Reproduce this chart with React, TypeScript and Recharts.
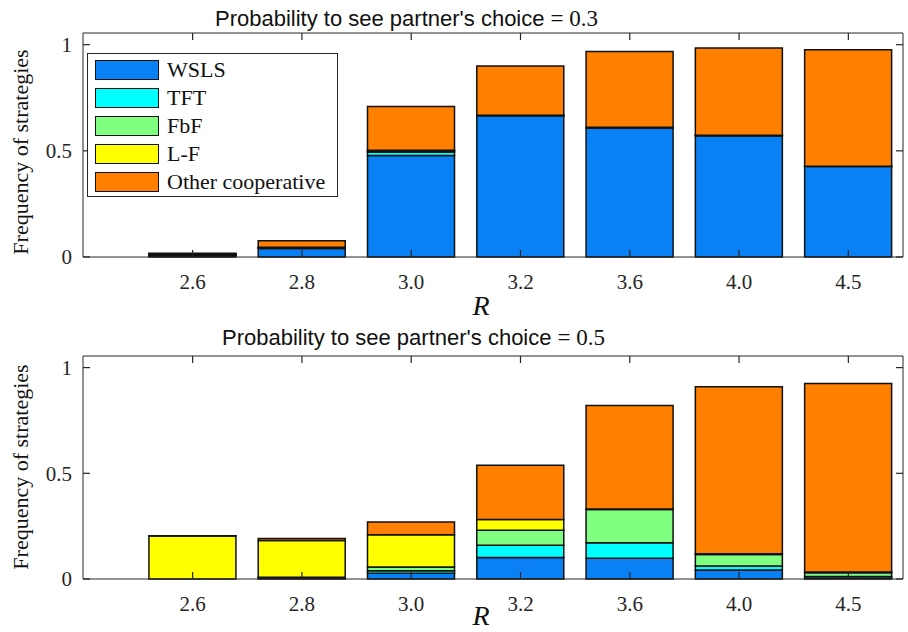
import { BarChart, Bar, XAxis, YAxis, Legend } from "recharts";

// R values on the x axis
const categories = ["2.6", "2.8", "3.0", "3.2", "3.6", "4.0", "4.5"];

// probability to see partner's choice = 0.3
const wsls03 = [0.006, 0.04, 0.478, 0.665, 0.608, 0.571, 0.426];
const tft03 = [0.003, 0.002, 0.015, 0.002, 0.002, 0.001, 0.001];
const fbf03 = [0.003, 0.002, 0.006, 0.001, 0.001, 0.001, 0.001];
const lf03 = [0.003, 0.002, 0.004, 0.0, 0.0, 0.0, 0.0];
const other03 = [0.003, 0.031, 0.206, 0.232, 0.357, 0.411, 0.548];

// probability to see partner's choice = 0.5
const wsls05 = [0.0, 0.003, 0.027, 0.102, 0.098, 0.042, 0.004];
const tft05 = [0.0, 0.002, 0.012, 0.058, 0.073, 0.02, 0.008];
const fbf05 = [0.0, 0.003, 0.018, 0.071, 0.158, 0.054, 0.018];
const lf05 = [0.204, 0.174, 0.152, 0.051, 0.002, 0.003, 0.003];
const other05 = [0.001, 0.01, 0.061, 0.256, 0.49, 0.79, 0.892];

const seriesNames = ["WSLS", "TFT", "FbF", "L-F", "Other cooperative"];
const seriesColors = ["#0a80f5", "#00ffff", "#80ff80", "#ffff00", "#ff8000"];
const yTicks = [0, 0.5, 1];

const AXIS = "#262626";
const SERIF = "'Liberation Serif', 'Times New Roman', serif";
const SANS = "'Liberation Sans', Arial, sans-serif";
const W = 908;
const H = 316;
const LEFT = 83;
const RIGHT = 903;
const TICK = 7;

const buildRows = (cols: number[][]) =>
  categories.map((r, i) => {
    const row: Record<string, number | string> = { r };
    cols.forEach((c, k) => (row[`s${k}`] = c[i]));
    return row;
  });

const rows03 = buildRows([wsls03, tft03, fbf03, lf03, other03]);
const rows05 = buildRows([wsls05, tft05, fbf05, lf05, other05]);

const LegendBox = () => (
  <div
    style={{
      position: "relative",
      width: 251,
      height: 144,
      border: `1.5px solid ${AXIS}`,
      background: "#fff",
      boxSizing: "border-box",
    }}
  >
    {seriesNames.map((name, i) => (
      <div key={name}>
        <div
          style={{
            position: "absolute",
            left: 7,
            top: 6 + i * 28,
            width: 64,
            height: 20,
            background: seriesColors[i],
            border: "1.5px solid #111",
            boxSizing: "border-box",
          }}
        />
        <div
          style={{
            position: "absolute",
            left: 79,
            top: 3 + i * 28,
            fontFamily: SERIF,
            fontSize: 22,
            lineHeight: "26px",
            color: "#111",
            whiteSpace: "nowrap",
          }}
        >
          {name}
        </div>
      </div>
    ))}
  </div>
);

function Panel({
  rows,
  plotTop,
  plotBottom,
  showLegend,
}: {
  rows: Record<string, number | string>[];
  plotTop: number;
  plotBottom: number;
  showLegend?: boolean;
}) {
  // matlab-style box: inward ticks on all four sides
  const XTick = (p: any) => (
    <g>
      <line x1={p.x} x2={p.x} y1={plotBottom} y2={plotBottom - TICK} stroke={AXIS} strokeWidth={1.2} />
      <line x1={p.x} x2={p.x} y1={plotTop} y2={plotTop + TICK} stroke={AXIS} strokeWidth={1.2} />
      <text
        x={p.x}
        y={p.y}
        dy="0.71em"
        textAnchor="middle"
        fontFamily={SERIF}
        fontSize={21}
        fill={AXIS}
      >
        {p.payload.value}
      </text>
    </g>
  );
  const YTick = (p: any) => (
    <g>
      <line x1={LEFT} x2={LEFT + TICK} y1={p.y} y2={p.y} stroke={AXIS} strokeWidth={1.2} />
      <line x1={RIGHT} x2={RIGHT - TICK} y1={p.y} y2={p.y} stroke={AXIS} strokeWidth={1.2} />
      <text
        x={p.x}
        y={p.y}
        dy="0.355em"
        textAnchor="end"
        fontFamily={SERIF}
        fontSize={21}
        fill={AXIS}
      >
        {p.payload.value}
      </text>
    </g>
  );

  return (
    <BarChart
      width={W}
      height={H}
      data={rows}
      margin={{ top: plotTop - 1, right: W - RIGHT - 1, bottom: H - plotBottom - 30, left: LEFT - 40 }}
      barCategoryGap="10%"
    >
      <XAxis
        xAxisId="t"
        dataKey="r"
        orientation="top"
        interval={0}
        padding={{ left: 55, right: 0 }}
        height={1}
        stroke={AXIS}
        tick={false}
        tickLine={false}
      />
      <YAxis
        yAxisId="r"
        orientation="right"
        domain={[0, 1.055]}
        ticks={yTicks}
        width={1}
        stroke={AXIS}
        tick={false}
        tickLine={false}
      />
      {showLegend && (
        <Legend
          layout="horizontal"
          verticalAlign="middle"
          align="center"
          content={() => <LegendBox />}
          wrapperStyle={{ left: 87, top: 53, width: 251, height: 144 }}
        />
      )}
      {seriesNames.map((name, k) => (
        <Bar
          key={name}
          xAxisId="b"
          yAxisId="l"
          dataKey={`s${k}`}
          name={name}
          stackId="a"
          fill={seriesColors[k]}
          stroke="#111"
          strokeWidth={1.5}
          isAnimationActive={false}
        />
      ))}
      <XAxis
        xAxisId="b"
        dataKey="r"
        interval={0}
        padding={{ left: 55, right: 0 }}
        height={30}
        stroke={AXIS}
        tickLine={false}
        tickSize={0}
        tickMargin={17}
        tick={<XTick />}
      />
      <YAxis
        yAxisId="l"
        domain={[0, 1.055]}
        ticks={yTicks}
        width={40}
        stroke={AXIS}
        tickLine={false}
        tickSize={0}
        tickMargin={11}
        tick={<YTick />}
      />
    </BarChart>
  );
}

export default function App() {
  return (
    <div
      style={{
        position: "absolute",
        left: 0,
        top: 0,
        width: W,
        height: 632,
        background: "#fff",
      }}
    >
      <Panel rows={rows03} plotTop={33} plotBottom={257} showLegend />
      <Panel rows={rows05} plotTop={40} plotBottom={263} />
      <svg
        width={W}
        height={632}
        style={{ position: "absolute", left: 0, top: 0, pointerEvents: "none" }}
      >
        <text x={215} y={26} fontFamily={SANS} fontSize={22} fill="#111">
          Probability to see partner's choice{" "}
          <tspan fontFamily={SERIF} fontSize={23}>= 0.3</tspan>
        </text>
        <text x={222} y={345} fontFamily={SANS} fontSize={22} fill="#111">
          Probability to see partner's choice{" "}
          <tspan fontFamily={SERIF} fontSize={23}>= 0.5</tspan>
        </text>
        <text x={481} y={315} textAnchor="middle" fontFamily={SERIF} fontStyle="italic" fontSize={28} fill="#111">
          R
        </text>
        <text x={481} y={625} textAnchor="middle" fontFamily={SERIF} fontStyle="italic" fontSize={28} fill="#111">
          R
        </text>
        <text
          transform="translate(28,152) rotate(-90)"
          textAnchor="middle"
          fontFamily={SERIF}
          fontSize={22}
          fill="#111"
        >
          Frequency of strategies
        </text>
        <text
          transform="translate(28,467) rotate(-90)"
          textAnchor="middle"
          fontFamily={SERIF}
          fontSize={22}
          fill="#111"
        >
          Frequency of strategies
        </text>
      </svg>
    </div>
  );
}
